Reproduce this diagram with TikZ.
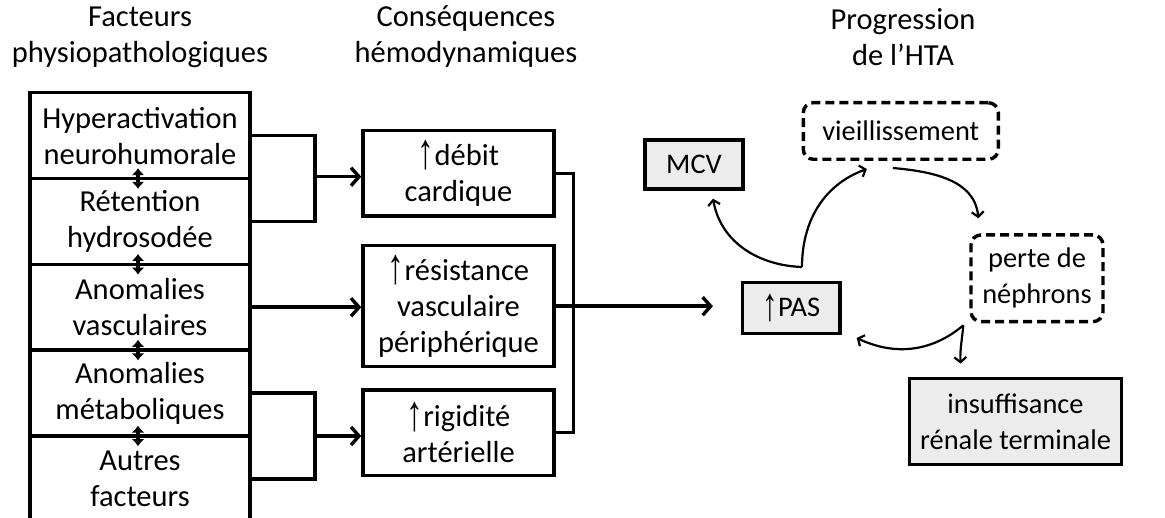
\documentclass[tikz,border=0pt]{standalone}
\usepackage{fontspec}
\usepackage{graphicx}
\setmainfont{Carlito}
\newfontfamily\flechefont{Liberation Sans}
\newcommand{\hausse}{\raisebox{-0.12em}{\scalebox{1.1}[1.65]{\flechefont ↑}}}
\usetikzlibrary{arrows.meta}

\begin{document}
\begin{tikzpicture}[x=1pt, y=-1pt,
    every node/.style={font=\fontsize{30.5}{36}\selectfont, align=center, inner sep=0pt},
    droite/.style={font=\fontsize{28.4}{36}\selectfont},
    factor/.style={draw, line width=3.4pt, minimum width=220pt, minimum height=85.8pt},
    conseq/.style={draw, line width=3.4pt, minimum width=191pt},
    grise/.style={draw, droite, line width=3.4pt, fill=gray!15},
    pointille/.style={draw, droite, line width=3.4pt, dash pattern=on 9pt off 5pt, rounded corners=10pt},
    trait/.style={line width=3.4pt},
    fleche/.style={line width=3.4pt, -{Straight Barb[length=8pt,width=18pt]}},
    dbl/.style={line width=3.2pt, {Latex[length=7pt,width=13pt]}-{Latex[length=7pt,width=13pt]}},
    courbe/.style={line width=2.2pt, -{Straight Barb[length=5pt,width=12pt]}}]
    %--------------------%
    % Parameters
    %--------------------%
    \def\fx{140}
    \def\ftop{135.6}
    \def\fsep{85.8}
    \def\cx{458.5}

    \useasboundingbox (0,0) rectangle (1165,518);

    %--------------------%
    % Titles
    %--------------------%
    \node (titre1) at (\fx,37) {Facteurs\\physiopathologiques};
    \node (titre2) at (466,37) {Conséquences\\hémodynamiques};
    \node (titre3) at (903,37) {Progression\\de l'HTA};

    %--------------------%
    % Factors
    %--------------------%
    \node[factor] (hyper) at (\fx,\ftop) {Hyperactivation\\neurohumorale};
    \node[factor] (reten) at (\fx,\ftop+\fsep) {Rétention\\hydrosodée};
    \node[factor] (vascu) at (\fx,\ftop+2*\fsep) {Anomalies\\vasculaires};
    \node[factor] (metab) at (\fx,\ftop+3*\fsep) {Anomalies\\métaboliques};
    \node[factor] (autres) at (\fx,\ftop+4*\fsep) {Autres\\facteurs};

    % Links between factors
    \draw[dbl] ([xshift=-2pt,yshift=12pt]hyper.south) -- ([xshift=-2pt,yshift=-12pt]reten.north);
    \draw[dbl] ([xshift=-2pt,yshift=12pt]reten.south) -- ([xshift=-2pt,yshift=-12pt]vascu.north);
    \draw[dbl] ([xshift=-2pt,yshift=12pt]vascu.south) -- ([xshift=-2pt,yshift=-12pt]metab.north);
    \draw[dbl] ([xshift=-2pt,yshift=12pt]metab.south) -- ([xshift=-2pt,yshift=-12pt]autres.north);

    %--------------------%
    % Consequences
    %--------------------%
    \node[conseq, minimum height=85.3pt] (debit) at (\cx,173.3) {\hausse débit\\cardique};
    \node[conseq, minimum height=121pt] (resist) at (\cx,306.2) {\hausse résistance\\vasculaire\\périphérique};
    \node[conseq, minimum height=85.7pt] (rigid) at (\cx,432.8) {\hausse rigidité\\artérielle};

    % Factors to consequences
    \coordinate (bus1) at (315,176.7);
    \coordinate (bus2) at (315,436);
    \draw[trait] (hyper.east) -| (bus1) |- (reten.east);
    \draw[fleche] (bus1) -- (bus1 -| debit.west);
    \draw[fleche] (vascu.east) -- (vascu.east -| resist.west);
    \draw[trait] (metab.east) -| (bus2) |- (autres.east);
    \draw[fleche] (bus2) -- (bus2 -| rigid.west);

    %--------------------%
    % Progression
    %--------------------%
    \node[grise, minimum width=98pt, minimum height=49pt] (mcv) at (694,164.5) {MCV};
    \node[pointille, minimum width=195pt, minimum height=56.6pt] (vieil) at (900.8,131) {vieillissement};
    \node[pointille, minimum width=132pt, minimum height=86.7pt] (perte) at (1037,278.3) {perte de\\néphrons};
    \node[grise, minimum width=97.3pt, minimum height=51pt] (pas) at (791.3,307.8) {\hausse PAS};
    \node[grise, minimum width=212.4pt, minimum height=86pt] (insuf) at (1015.5,421.3) {insuffisance\\rénale terminale};

    % Consequences to PAS
    \coordinate (bus3) at (573.3,306.2);
    \draw[trait] (debit.east) -| (bus3) |- (rigid.east);
    \draw[fleche, shorten >=28pt] (resist.east) -- (resist.east -| pas.west);

    % Cycle
    \coordinate (fourche) at (802,267);
    \draw[courbe] (fourche) to[out=178,in=-80] ([xshift=19pt,yshift=-8pt]mcv.south);
    \draw[courbe] (fourche) to[out=90,in=200] ([xshift=-34pt,yshift=-8pt]vieil.south);
    \draw[courbe] ([xshift=-8pt,yshift=-7pt]vieil.south) to[out=-5,in=95] ([xshift=9pt,yshift=15pt]perte.north west);
    \draw[courbe] ([xshift=-6pt,yshift=-2pt]perte.south west) to[out=220,in=-25] ([xshift=15pt,yshift=-3pt]pas.south east);
    \draw[courbe] ([xshift=-6pt,yshift=-2pt]perte.south west) to[out=-95,in=92] ([xshift=-55pt,yshift=13pt]insuf.north);
\end{tikzpicture}
\end{document}
